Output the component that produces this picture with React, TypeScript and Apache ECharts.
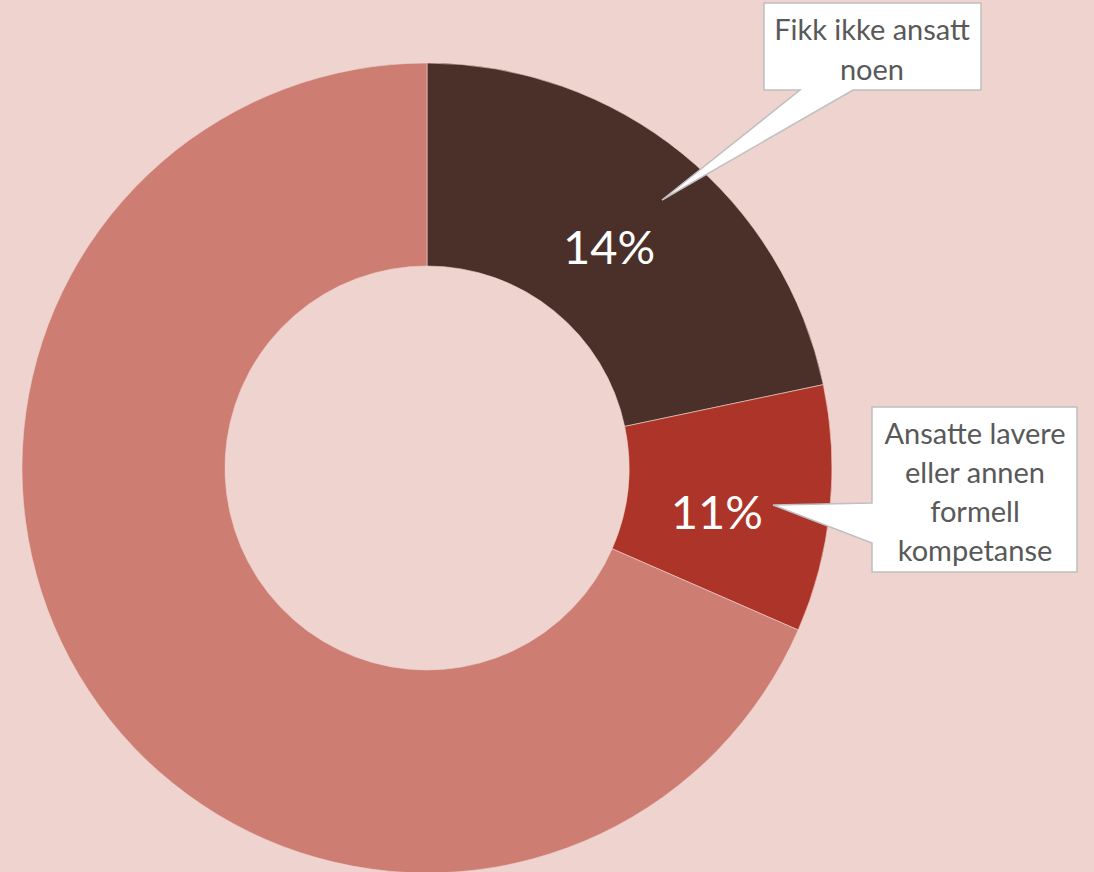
import React, { useEffect, useRef } from "react";
import * as echarts from "echarts";

const categories = ["Fikk ikke ansatt noen", "Ansatte lavere eller annen formell kompetanse", "Øvrige"];
// slice sizes as drawn (share of the ring, %)
const sliceValues = [21.7, 9.85, 68.45];
// percentages printed on the slices
const displayLabels = ["14%", "11%", ""];
const sliceColors = ["#4B2F29", "#AD3428", "#CD7D72"];

export default function App() {
  const ref = useRef<HTMLDivElement>(null);
  useEffect(() => {
    if (!ref.current) return;
    const chart = echarts.init(ref.current, null, { renderer: "svg" });
    const calloutStyle = { fill: "#FFFFFF", stroke: "#BFBFBF", lineWidth: 1.5 };
    const textStyle = { fill: "#595959", font: "29px Lato, 'Open Sans', sans-serif", align: "center" as const, verticalAlign: "middle" as const, lineHeight: 39 };
    chart.setOption({
      animation: false,
      backgroundColor: "#EED3CF",
      series: [
        {
          type: "pie",
          center: [427, 468],
          radius: [202, 405],
          startAngle: 90,
          clockwise: true,
          silent: true,
          itemStyle: { borderColor: "#EED3CF", borderWidth: 0.6 },
          label: {
            show: true,
            position: "inside",
            color: "#FFFFFF",
            fontSize: 47,
            fontFamily: "Lato, 'Open Sans', sans-serif",
            formatter: (p: any) => displayLabels[p.dataIndex],
          },
          labelLine: { show: false },
          data: categories.map((name, i) => ({
            name,
            value: sliceValues[i],
            itemStyle: { color: sliceColors[i] },
            label: i === 0 ? { offset: [-11, 16] } : i === 1 ? { offset: [-15, 12] } : { show: false },
          })),
        },
      ],
      graphic: [
        {
          type: "polygon",
          shape: { points: [[764, 3], [981, 3], [981, 90], [853, 90], [662, 200], [800, 90], [764, 90]] },
          style: calloutStyle,
          z: 10,
        },
        {
          type: "text",
          x: 872,
          y: 48,
          style: { ...textStyle, text: "Fikk ikke ansatt\nnoen", lineHeight: 40 },
          z: 11,
        },
        {
          type: "polygon",
          shape: { points: [[872, 407], [1077, 407], [1077, 572], [872, 572], [872, 543], [773, 505], [872, 503]] },
          style: calloutStyle,
          z: 10,
        },
        {
          type: "text",
          x: 975,
          y: 491,
          style: { ...textStyle, text: "Ansatte lavere\neller annen\nformell\nkompetanse" },
          z: 11,
        },
      ],
    });
    return () => chart.dispose();
  }, []);
  return <div ref={ref} style={{ position: "fixed", left: 0, top: 0, width: 1094, height: 872 }} />;
}
